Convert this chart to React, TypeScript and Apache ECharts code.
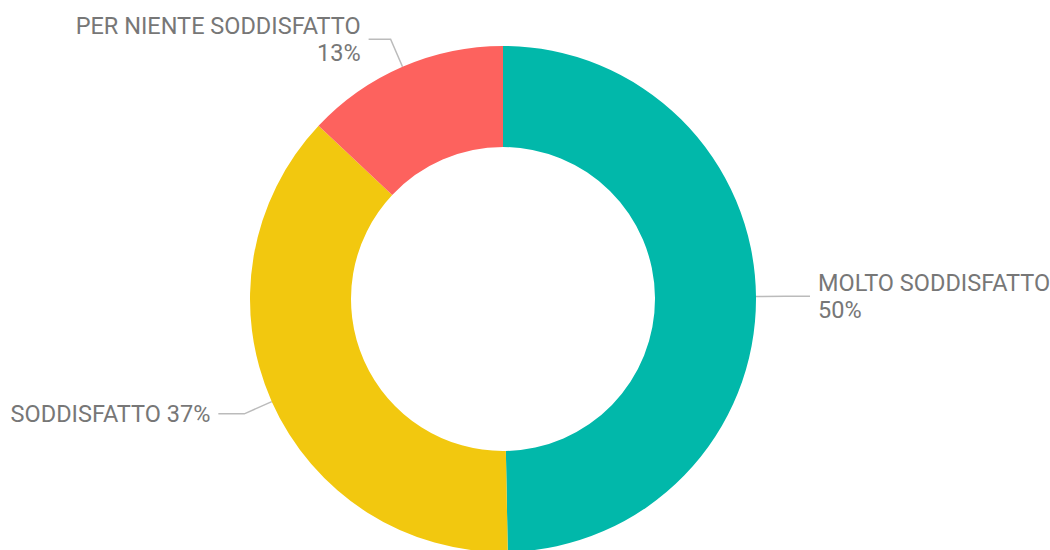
import React, { useEffect, useRef } from "react";
import * as echarts from "echarts";

const categories = ["MOLTO SODDISFATTO", "SODDISFATTO", "PER NIENTE SODDISFATTO"];
const values = [49.7, 37.3, 13.0];
const colors = ["#01B8AA", "#F2C80F", "#FD625E"];
const labelTexts = ["MOLTO SODDISFATTO\n50%", "SODDISFATTO 37%", "PER NIENTE SODDISFATTO\n13%"];
const lineLengths = [30, 30, 30];
const lineLengths2 = [24, 26, 22];

export default function App() {
  const ref = useRef<HTMLDivElement>(null);
  useEffect(() => {
    document.body.style.margin = "0";
    const chart = echarts.init(ref.current!, undefined, { renderer: "svg" });
    chart.setOption({
      animation: false,
      series: [
        {
          type: "pie",
          center: [503, 299],
          radius: [152, 253],
          startAngle: 90,
          clockwise: true,
          avoidLabelOverlap: false,
          label: {
            show: true,
            position: "outside",
            fontFamily: "Roboto",
            fontSize: 23.5,
            lineHeight: 27,
            color: "#777777",
            distanceToLabelLine: 8,
          },
          labelLine: {
            show: true,
            smooth: false,
            lineStyle: { color: "#bbbbbb", width: 1.5 },
          },
          emphasis: { disabled: true },
          data: categories.map((c, i) => ({
            name: c,
            value: values[i],
            itemStyle: { color: colors[i] },
            label: { formatter: labelTexts[i] },
            labelLine: { length: lineLengths[i], length2: lineLengths2[i] },
          })),
        },
      ],
    });
    return () => chart.dispose();
  }, []);
  return <div ref={ref} style={{ width: 1050, height: 550 }} />;
}
